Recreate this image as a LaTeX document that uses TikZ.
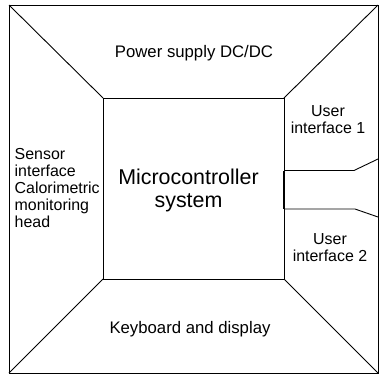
\documentclass[tikz,border=0pt]{standalone}
\usepackage{fontspec}
\setmainfont{Liberation Sans}
\begin{document}
\begin{tikzpicture}[x=1bp,y=-1bp,
  edge/.style={draw=black,line width=0.9bp},
  lbl/.style={inner sep=0pt,font=\fontsize{16}{17}\selectfont},
  wide/.style={inner sep=0pt,font=\fontsize{16.8}{17}\selectfont},
  big/.style={inner sep=0pt,align=center,font=\fontsize{21.5}{22.5}\selectfont}]
\useasboundingbox (0,0) rectangle (382,376);
% outer box corners
\coordinate (OTL) at (9,5);
\coordinate (OTR) at (378,5);
\coordinate (OBR) at (378,373);
\coordinate (OBL) at (9,373);
% inner box corners
\coordinate (ITL) at (103,98);
\coordinate (ITR) at (284,98);
\coordinate (IBR) at (284,279);
\coordinate (IBL) at (103,279);
% notch points
\coordinate (N1a) at (284,170.5);
\coordinate (N1b) at (354,170.5);
\coordinate (N1c) at (378,159);
\coordinate (N2a) at (284,209);
\coordinate (N2b) at (355,209);
\coordinate (N2c) at (378,217);
\draw[edge] (OTL) rectangle (OBR);
\draw[edge] (ITL) rectangle (IBR);
\draw[edge] (OTL) -- (ITL);
\draw[edge] (OTR) -- (ITR);
\draw[edge] (OBL) -- (IBL);
\draw[edge] (OBR) -- (IBR);
\draw[edge] (N1c) -- (N1b) -- (N1a);
\draw[edge] (N2c) -- (N2b) -- (N2a);
\draw[line width=1.6bp] (N1a) -- (N2a);
% texts
\node[wide] (power) at (194,53) {Power supply DC/DC};
\node[wide] (keyb) at (190,329) {Keyboard and display};
\node[big] (mcu) at (188.5,190.5) {Microcontroller\\system};
\node[lbl,align=left,anchor=west] (sensor) at (14.5,188) {Sensor\\interface\\Calorimetric\\monitoring\\head};
\node[lbl,align=center] (ui1) at (328,119.5) {User\\interface 1};
\node[lbl,align=center] (ui2) at (330,247.5) {User\\interface 2};
\end{tikzpicture}
\end{document}
